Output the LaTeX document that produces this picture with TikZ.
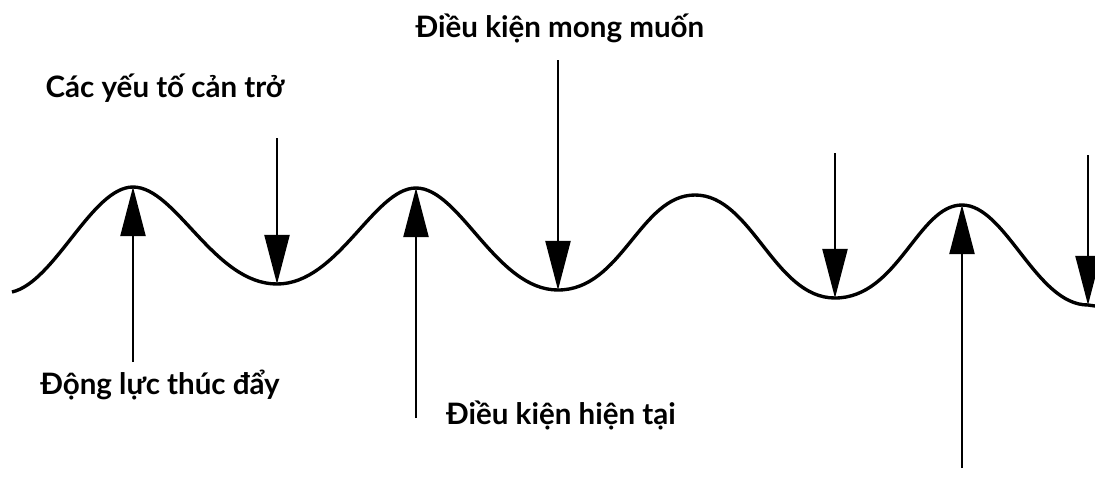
\documentclass[tikz,border=0pt]{standalone}
\usepackage{fontspec}
\setmainfont{Lato}
\usetikzlibrary{arrows.meta}
\tikzset{
  wave/.style={line width=2.4pt},
  push/.style={line width=1pt, -{Triangle[length=35pt,width=18pt]}},
  lbl/.style={font=\fontsize{21}{24}\selectfont\bfseries, inner sep=0pt}
}
\begin{document}
\begin{tikzpicture}[x=0.025cm, y=-0.025cm]
	\useasboundingbox (0,0) rectangle (1095,481);
	\coordinate (s) at (12,292);
	\coordinate (p1) at (133,187);
	\coordinate (t1) at (277,284);
	\coordinate (p2) at (416,188);
	\coordinate (t2) at (558,290);
	\coordinate (p3) at (695,195);
	\coordinate (t3) at (835,298);
	\coordinate (p4) at (962,205);
	\coordinate (t4) at (1088,305);

	\draw[wave] (s) .. controls (55,282) and (92,187) .. (p1)
		.. controls (176,187) and (214,284) .. (t1)
		.. controls (338,284) and (374,188) .. (p2)
		.. controls (460,188) and (496,290) .. (t2)
		.. controls (622,290) and (640,195) .. (p3)
		.. controls (752,195) and (774,298) .. (t3)
		.. controls (898,298) and (918,205) .. (p4)
		.. controls (1006,205) and (1036,305) .. (t4)
		-- (1095,306);

	\coordinate (u1) at (133,362);
	\coordinate (u2) at (416,418);
	\coordinate (u4) at (962,468);
	\coordinate (d1) at (277,138);
	\coordinate (d2) at (558,60);
	\coordinate (d3) at (835,153);
	\coordinate (d4) at (1088,155);

	\draw[push] (u1) -- (p1);
	\draw[push] (u2) -- (p2);
	\draw[push] (u4) -- (p4);
	\draw[push] (d1) -- (t1);
	\draw[push] (d2) -- (t2);
	\draw[push] (d3) -- (t3);
	\draw[push] (d4) -- (t4);

	\node[lbl] (want) at (560,28) {Điều kiện mong muốn};
	\node[lbl] (block) at (165,88) {Các yếu tố cản trở};
	\node[lbl] (drive) at (160,385) {Động lực thúc đẩy};
	\node[lbl] (now) at (561,415) {Điều kiện hiện tại};
\end{tikzpicture}
\end{document}
